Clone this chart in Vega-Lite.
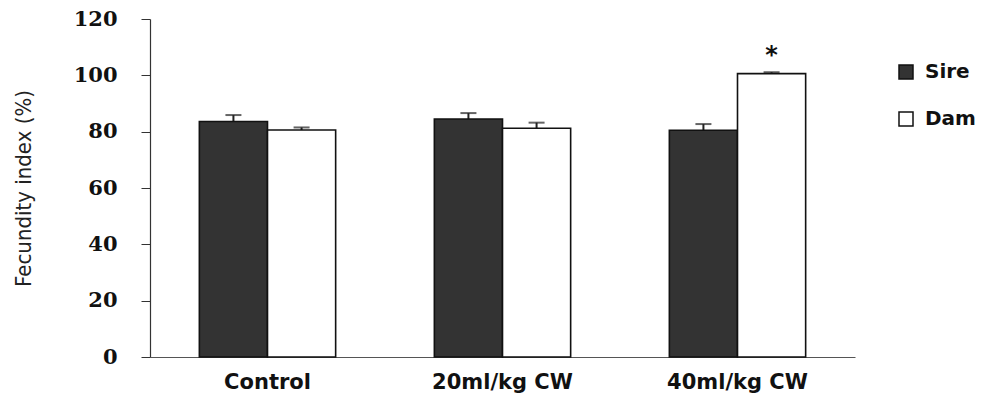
{
  "$schema": "https://vega.github.io/schema/vega-lite/v6.json",
  "width": 705,
  "height": 338,
  "autosize": "none",
  "padding": {"left": 150, "top": 19, "right": 139, "bottom": 50},
  "background": "white",
  "data": {"values": [
    {"group": "Control", "sex": "Sire", "value": 83.6, "upper": 85.9, "sig": ""},
    {"group": "Control", "sex": "Dam", "value": 80.6, "upper": 81.5, "sig": ""},
    {"group": "20ml/kg CW", "sex": "Sire", "value": 84.5, "upper": 86.6, "sig": ""},
    {"group": "20ml/kg CW", "sex": "Dam", "value": 81.2, "upper": 83.2, "sig": ""},
    {"group": "40ml/kg CW", "sex": "Sire", "value": 80.5, "upper": 82.7, "sig": ""},
    {"group": "40ml/kg CW", "sex": "Dam", "value": 100.6, "upper": 101.1, "sig": "*"}
  ]},
  "encoding": {
    "x": {"field": "group", "type": "nominal", "sort": ["Control", "20ml/kg CW", "40ml/kg CW"],
      "scale": {"paddingInner": 0.42, "paddingOuter": 0.21},
      "axis": {"title": null, "labelAngle": 0, "ticks": false, "domainColor": "#555", "domainWidth": 1.2,
        "labelFont": "DejaVu Sans", "labelFontWeight": "bold", "labelFontSize": 21, "labelColor": "#111", "labelPadding": 14}},
    "xOffset": {"field": "sex", "type": "nominal", "sort": ["Sire", "Dam"], "scale": {"paddingInner": 0, "paddingOuter": 0}}
  },
  "layer": [
    {
      "mark": {"type": "rule", "color": "#222", "strokeWidth": 2},
      "encoding": {
        "y": {"field": "value", "type": "quantitative"},
        "y2": {"field": "upper"}
      }
    },
    {
      "mark": {"type": "tick", "color": "#222", "size": 16, "thickness": 2},
      "encoding": {"y": {"field": "upper", "type": "quantitative"}}
    },
    {
      "mark": {"type": "bar", "stroke": "#111", "strokeWidth": 1.6},
      "encoding": {
        "y": {"field": "value", "type": "quantitative",
          "scale": {"domain": [0, 120], "nice": false},
          "axis": {"values": [0, 20, 40, 60, 80, 100, 120], "grid": false, "tickSize": 9, "tickColor": "#333", "domainColor": "#333", "domainWidth": 1.2,
            "labelFont": "DejaVu Serif", "labelFontWeight": "bold", "labelFontSize": 21, "labelColor": "#111", "labelPadding": 24,
            "title": "Fecundity index (%)", "titleFont": "DejaVu Sans Condensed, Liberation Sans Narrow, Liberation Sans", "titleFontWeight": "normal", "titleFontSize": 22, "titleColor": "#222", "titlePadding": 38}},
        "fill": {"field": "sex", "type": "nominal", "sort": ["Sire", "Dam"],
          "scale": {"domain": ["Sire", "Dam"], "range": ["#333333", "#ffffff"]},
          "legend": {"title": null, "orient": "none", "legendX": 746, "legendY": 43, "symbolType": "square", "symbolSize": 196,
            "symbolStrokeColor": "#111", "symbolStrokeWidth": 1.5, "symbolOpacity": 1,
            "labelFont": "DejaVu Sans", "labelFontWeight": "bold", "labelFontSize": 20, "labelColor": "#111", "rowPadding": 27, "labelOffset": 9}}
      }
    },
    {
      "mark": {"type": "text", "baseline": "bottom", "dy": -4, "fontSize": 24, "fontWeight": "bold", "font": "DejaVu Sans", "color": "#111"},
      "encoding": {
        "y": {"field": "upper", "type": "quantitative"},
        "text": {"field": "sig"}
      }
    }
  ],
  "config": {"view": {"stroke": null}}
}
